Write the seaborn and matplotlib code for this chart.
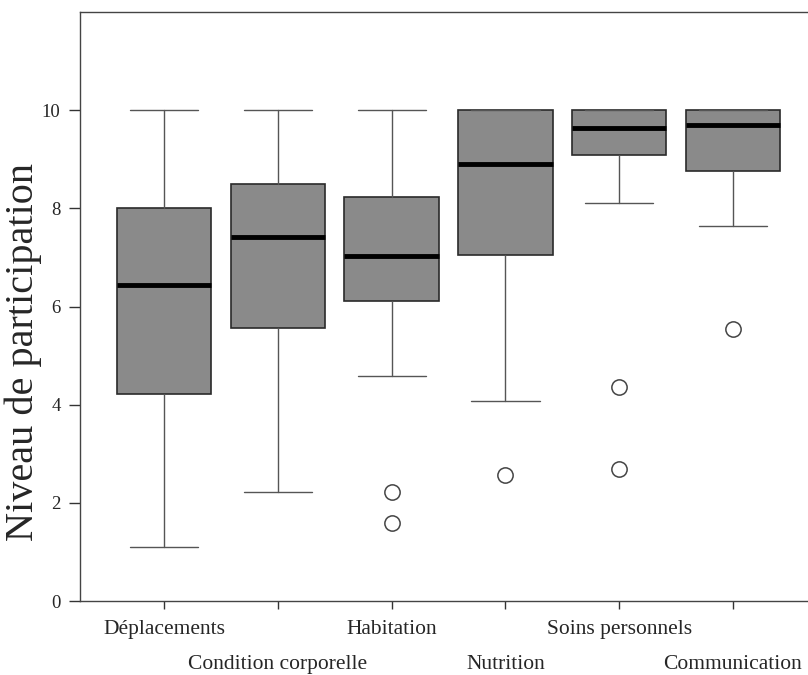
import matplotlib
matplotlib.use("Agg")
import matplotlib.pyplot as plt
import seaborn as sns

# five-number summaries
categories = ["Déplacements", "Condition corporelle", "Habitation",
              "Nutrition", "Soins personnels", "Communication"]
whisker_low = [1.10, 2.22, 4.58, 4.07, 8.10, 7.64]
q1 = [4.22, 5.56, 6.11, 7.05, 9.08, 8.76]
median = [6.44, 7.41, 7.03, 8.90, 9.63, 9.69]
q3 = [8.00, 8.50, 8.23, 10.0, 10.0, 10.0]
whisker_high = [10.0, 10.0, 10.0, 10.0, 10.0, 10.0]
outliers = [[], [], [2.22, 1.58], [2.57], [4.36, 2.69], [5.54]]

sns.set_theme(style="ticks")
plt.rcParams['font.family'] = ['Liberation Serif', 'DejaVu Serif']

stats = []
for i, name in enumerate(categories):
    stats.append({
        'label': name, 'whislo': whisker_low[i], 'q1': q1[i], 'med': median[i],
        'q3': q3[i], 'whishi': whisker_high[i], 'fliers': outliers[i],
    })

fig = plt.figure(figsize=(8.08, 6.75), dpi=100)
ax = fig.add_axes([80 / 808, 74 / 675, 1 - 80 / 808, 589 / 675])

ax.bxp(stats, positions=range(len(categories)), widths=0.83, showfliers=True,
       patch_artist=True, manage_ticks=False,
       boxprops=dict(facecolor='#8a8a8a', edgecolor='#2a2a2a', linewidth=1.2),
       medianprops=dict(color='black', linewidth=3.5),
       whiskerprops=dict(color='#555555', linewidth=1),
       capprops=dict(color='#555555', linewidth=1),
       capwidths=0.6,
       flierprops=dict(marker='o', markersize=11, markerfacecolor='white',
                       markeredgecolor='#444444', markeredgewidth=1.1))

ax.set_xlim(-0.74, 5.66)
ax.set_ylim(0, 12)
ax.set_yticks([0, 2, 4, 6, 8, 10])
ax.set_xticks(range(len(categories)))
ax.set_xticklabels(categories)
ax.tick_params(axis='x', labelsize=15.5, length=6, width=1, color='#333333', pad=8)
ax.tick_params(axis='y', labelsize=13.5, length=8, width=1, color='#333333', pad=6)
# alternate rows for the x labels
for i, tick in enumerate(ax.xaxis.get_major_ticks()):
    if i % 2 == 1:
        tick.set_pad(33)

ax.set_ylabel('Niveau de participation', fontsize=29)
ax.yaxis.set_label_coords(-0.052, 0.423)

for side in ['left', 'bottom', 'top']:
    ax.spines[side].set_color('#444444')
    ax.spines[side].set_linewidth(1)
ax.spines['right'].set_visible(False)

fig.savefig('out.png', dpi=100)
